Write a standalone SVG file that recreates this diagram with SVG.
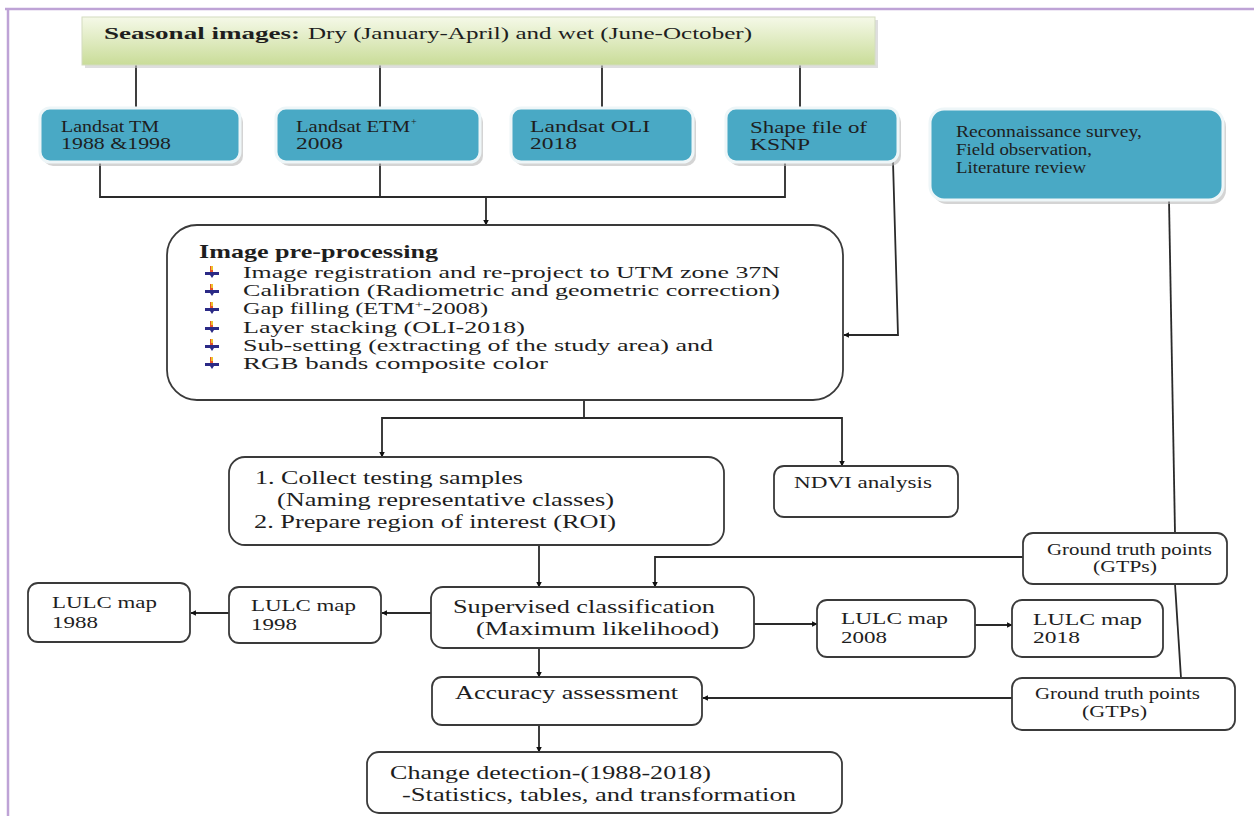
<svg xmlns="http://www.w3.org/2000/svg" xmlns:xlink="http://www.w3.org/1999/xlink" width="1254" height="816" viewBox="0 0 1254 816">
<defs>
<style>
text{font-family:"Liberation Serif","Times New Roman",serif;fill:#1e1e1e;}
.t19{font-size:19px;}
.t17{font-size:17px;}
.t16{font-size:16.3px;}
.b{font-weight:bold;}
.box{fill:#fff;stroke:#3a3a3a;stroke-width:1.8;}
.blue{fill:#49a9c5;stroke:#eef6f8;stroke-width:3;}
.shadow{fill:#b8b8b8;opacity:0.6;}
.ln{fill:none;stroke:#2a2a2a;stroke-width:1.8;}
.arr{fill:none;stroke:#2a2a2a;stroke-width:1.8;marker-end:url(#ah);}
</style>
<marker id="ah" viewBox="0 0 10 10" refX="9" refY="5" markerWidth="6" markerHeight="5.5" orient="auto" markerUnits="userSpaceOnUse">
<path d="M0,0 L10,5 L0,10 z" fill="#111"/>
</marker>
<linearGradient id="gg" x1="0" y1="0" x2="0" y2="1">
<stop offset="0" stop-color="#f5f9e8"/>
<stop offset="1" stop-color="#c9dc98"/>
</linearGradient>
<g id="bul">
<rect x="-2" y="-7" width="3" height="7" fill="#e5532a"/>
<rect x="-1" y="-7" width="2" height="4" fill="#f0c22a"/>
<rect x="-7" y="-1" width="14" height="3" fill="#2b2a86"/>
<path d="M-2,2 L2,2 L0,5 z" fill="#2b2a86"/>
</g>
</defs>
<rect width="1254" height="816" fill="#fff"/>
<g id="frame">
<line x1="5" y1="9" x2="1254" y2="9" stroke="#bea3d6" stroke-width="2.5"/>
<line x1="8" y1="9" x2="8" y2="816" stroke="#bea3d6" stroke-width="2.5"/>
</g>

<g id="connectors">
<line class="ln" x1="136" y1="65" x2="136" y2="108"/>
<line class="ln" x1="380" y1="65" x2="380" y2="108"/>
<line class="ln" x1="602" y1="65" x2="602" y2="108"/>
<line class="ln" x1="800" y1="65" x2="800" y2="108"/>
<polyline class="ln" points="100,162 100,197 785,197 785,162"/>
<line class="ln" x1="380" y1="162" x2="380" y2="197"/>
<line class="arr" x1="486" y1="197" x2="486" y2="225"/>
<polyline class="arr" points="893,162 898,335 844,335"/>
<polyline class="ln" points="584,400 584,418"/>
<polyline class="arr" points="584,418 382,418 382,457"/>
<polyline class="arr" points="584,418 842,418 842,466"/>
<line class="arr" x1="539" y1="545" x2="539" y2="587"/>
<line class="ln" x1="1169" y1="200" x2="1175" y2="533"/>
<polyline class="arr" points="1023,557 655,557 655,587"/>
<line class="ln" x1="1175" y1="584" x2="1181" y2="678"/>
<line class="arr" x1="431" y1="613" x2="382" y2="613"/>
<line class="arr" x1="229" y1="613" x2="191" y2="613"/>
<line class="arr" x1="754" y1="624" x2="817" y2="624"/>
<line class="arr" x1="975" y1="625" x2="1012" y2="625"/>
<line class="arr" x1="539" y1="648" x2="539" y2="677"/>
<line class="arr" x1="1012" y1="698" x2="703" y2="698"/>
<line class="arr" x1="539" y1="725" x2="539" y2="752"/>
</g>

<g id="seasonal">
<rect x="85" y="20" width="793" height="48" fill="#c8c8c8" opacity="0.6"/>
<rect x="82" y="17" width="793" height="48" fill="url(#gg)" stroke="#d3dcc0" stroke-width="1"/>
<text class="t17 b" x="104" y="39" textLength="196" lengthAdjust="spacingAndGlyphs">Seasonal images:</text>
<text class="t17" x="308" y="39" textLength="444" lengthAdjust="spacingAndGlyphs">Dry (January-April) and wet (June-October)</text>
</g>

<g id="landsat-tm">
<rect class="shadow" x="43" y="112" width="200" height="54" rx="10"/>
<rect class="blue" x="40" y="108" width="200" height="54" rx="10"/>
<text class="t17" x="61" y="132" textLength="98" lengthAdjust="spacingAndGlyphs">Landsat TM</text>
<text class="t17" x="61" y="149" textLength="110" lengthAdjust="spacingAndGlyphs">1988 &amp;1998</text>
</g>
<g id="landsat-etm">
<rect class="shadow" x="279" y="112" width="204" height="54" rx="10"/>
<rect class="blue" x="276" y="108" width="204" height="54" rx="10"/>
<text class="t17" x="296" y="132" textLength="114" lengthAdjust="spacingAndGlyphs">Landsat ETM</text>
<text x="411" y="125" font-size="10">+</text>
<text class="t17" x="296" y="149" textLength="47" lengthAdjust="spacingAndGlyphs">2008</text>
</g>
<g id="landsat-oli">
<rect class="shadow" x="514" y="112" width="182" height="54" rx="10"/>
<rect class="blue" x="511" y="108" width="182" height="54" rx="10"/>
<text class="t17" x="530" y="132" textLength="120" lengthAdjust="spacingAndGlyphs">Landsat OLI</text>
<text class="t17" x="530" y="149" textLength="47" lengthAdjust="spacingAndGlyphs">2018</text>
</g>
<g id="shapefile">
<rect class="shadow" x="729" y="112" width="172" height="54" rx="10"/>
<rect class="blue" x="726" y="108" width="172" height="54" rx="10"/>
<text class="t17" x="750" y="133" textLength="117" lengthAdjust="spacingAndGlyphs">Shape file of</text>
<text class="t17" x="750" y="150" textLength="60" lengthAdjust="spacingAndGlyphs">KSNP</text>
</g>
<g id="recon">
<rect class="shadow" x="933" y="113" width="293" height="91" rx="14"/>
<rect class="blue" x="930" y="109" width="293" height="91" rx="14"/>
<text class="t17" x="956" y="137" textLength="186" lengthAdjust="spacingAndGlyphs">Reconnaissance survey,</text>
<text class="t17" x="956" y="155" textLength="136" lengthAdjust="spacingAndGlyphs">Field observation,</text>
<text class="t17" x="956" y="173" textLength="130" lengthAdjust="spacingAndGlyphs">Literature review</text>
</g>

<g id="preprocessing">
<rect class="box" x="167" y="225" width="676" height="175" rx="30"/>
<text class="t19 b" x="199" y="258" textLength="239" lengthAdjust="spacingAndGlyphs">Image pre-processing</text>
<use xlink:href="#bul" x="212" y="273"/>
<use xlink:href="#bul" x="212" y="291"/>
<use xlink:href="#bul" x="212" y="309"/>
<use xlink:href="#bul" x="212" y="328"/>
<use xlink:href="#bul" x="212" y="346"/>
<use xlink:href="#bul" x="212" y="364"/>
<text class="t16" x="243" y="278" textLength="537" lengthAdjust="spacingAndGlyphs">Image registration and re-project to UTM zone 37N</text>
<text class="t16" x="243" y="296" textLength="537" lengthAdjust="spacingAndGlyphs">Calibration (Radiometric and geometric correction)</text>
<text class="t16" x="243" y="314" textLength="245" lengthAdjust="spacingAndGlyphs">Gap filling (ETM<tspan font-size="10" dy="-6">+</tspan><tspan dy="6">-2008)</tspan></text>
<text class="t16" x="243" y="333" textLength="282" lengthAdjust="spacingAndGlyphs">Layer stacking (OLI-2018)</text>
<text class="t16" x="243" y="351" textLength="470" lengthAdjust="spacingAndGlyphs">Sub-setting (extracting of the study area) and</text>
<text class="t16" x="243" y="369" textLength="305" lengthAdjust="spacingAndGlyphs">RGB bands composite color</text>
</g>

<g id="collect">
<rect class="box" x="229" y="457" width="495" height="88" rx="16"/>
<text class="t19" x="255" y="484" textLength="268" lengthAdjust="spacingAndGlyphs">1. Collect testing samples</text>
<text class="t19" x="277" y="506" textLength="337" lengthAdjust="spacingAndGlyphs">(Naming representative classes)</text>
<text class="t19" x="254" y="528" textLength="362" lengthAdjust="spacingAndGlyphs">2. Prepare region of interest (ROI)</text>
</g>

<g id="ndvi">
<rect class="box" x="774" y="466" width="184" height="51" rx="10"/>
<text class="t17" x="794" y="488" textLength="138" lengthAdjust="spacingAndGlyphs">NDVI analysis</text>
</g>

<g id="gtp1">
<rect class="box" x="1023" y="533" width="204" height="51" rx="10"/>
<text class="t17" x="1047" y="555" textLength="165" lengthAdjust="spacingAndGlyphs">Ground truth points</text>
<text class="t17" x="1093" y="572" textLength="64" lengthAdjust="spacingAndGlyphs">(GTPs)</text>
</g>

<g id="supervised">
<rect class="box" x="431" y="587" width="323" height="61" rx="12"/>
<text class="t19" x="453" y="613" textLength="262" lengthAdjust="spacingAndGlyphs">Supervised classification</text>
<text class="t19" x="476" y="635" textLength="243" lengthAdjust="spacingAndGlyphs">(Maximum likelihood)</text>
</g>

<g id="lulc1998">
<rect class="box" x="229" y="587" width="152" height="56" rx="10"/>
<text class="t17" x="251" y="611" textLength="105" lengthAdjust="spacingAndGlyphs">LULC map</text>
<text class="t17" x="251" y="630" textLength="46" lengthAdjust="spacingAndGlyphs">1998</text>
</g>
<g id="lulc1988">
<rect class="box" x="28" y="583" width="162" height="59" rx="10"/>
<text class="t17" x="52" y="608" textLength="105" lengthAdjust="spacingAndGlyphs">LULC map</text>
<text class="t17" x="52" y="628" textLength="46" lengthAdjust="spacingAndGlyphs">1988</text>
</g>
<g id="lulc2008">
<rect class="box" x="817" y="600" width="158" height="57" rx="10"/>
<text class="t17" x="841" y="624" textLength="107" lengthAdjust="spacingAndGlyphs">LULC map</text>
<text class="t17" x="841" y="643" textLength="46" lengthAdjust="spacingAndGlyphs">2008</text>
</g>
<g id="lulc2018">
<rect class="box" x="1012" y="600" width="151" height="57" rx="10"/>
<text class="t17" x="1033" y="625" textLength="109" lengthAdjust="spacingAndGlyphs">LULC map</text>
<text class="t17" x="1033" y="643" textLength="47" lengthAdjust="spacingAndGlyphs">2018</text>
</g>

<g id="accuracy">
<rect class="box" x="432" y="677" width="270" height="48" rx="10"/>
<text class="t19" x="455" y="699" textLength="223" lengthAdjust="spacingAndGlyphs">Accuracy assessment</text>
</g>

<g id="gtp2">
<rect class="box" x="1012" y="678" width="223" height="52" rx="10"/>
<text class="t17" x="1035" y="699" textLength="165" lengthAdjust="spacingAndGlyphs">Ground truth points</text>
<text class="t17" x="1082" y="717" textLength="65" lengthAdjust="spacingAndGlyphs">(GTPs)</text>
</g>

<g id="change">
<rect class="box" x="367" y="752" width="475" height="61" rx="12"/>
<text class="t19" x="390" y="779" textLength="321" lengthAdjust="spacingAndGlyphs">Change detection-(1988-2018)</text>
<text class="t19" x="402" y="801" textLength="394" lengthAdjust="spacingAndGlyphs">-Statistics, tables, and transformation</text>
</g>
</svg>
